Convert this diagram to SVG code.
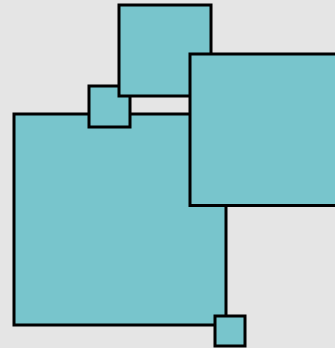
<svg xmlns="http://www.w3.org/2000/svg" width="335" height="348" viewBox="0 0 335 348">
<style>
.sq{fill:#78c5cc;stroke:#000;stroke-width:3;stroke-linejoin:miter}
</style>
<rect width="335" height="348" fill="#e5e5e5"/>
<g id="big"><rect class="sq" x="14" y="114" width="212" height="211"/></g>
<g id="small-top"><rect class="sq" x="89" y="86" width="41" height="41"/></g>
<g id="top"><rect class="sq" x="119" y="5" width="92" height="91"/></g>
<g id="right"><rect class="sq" x="190" y="54" width="160" height="151.5"/></g>
<g id="small-bottom"><rect class="sq" x="215" y="316" width="30" height="30"/></g>
<g id="connectors"></g>
</svg>
